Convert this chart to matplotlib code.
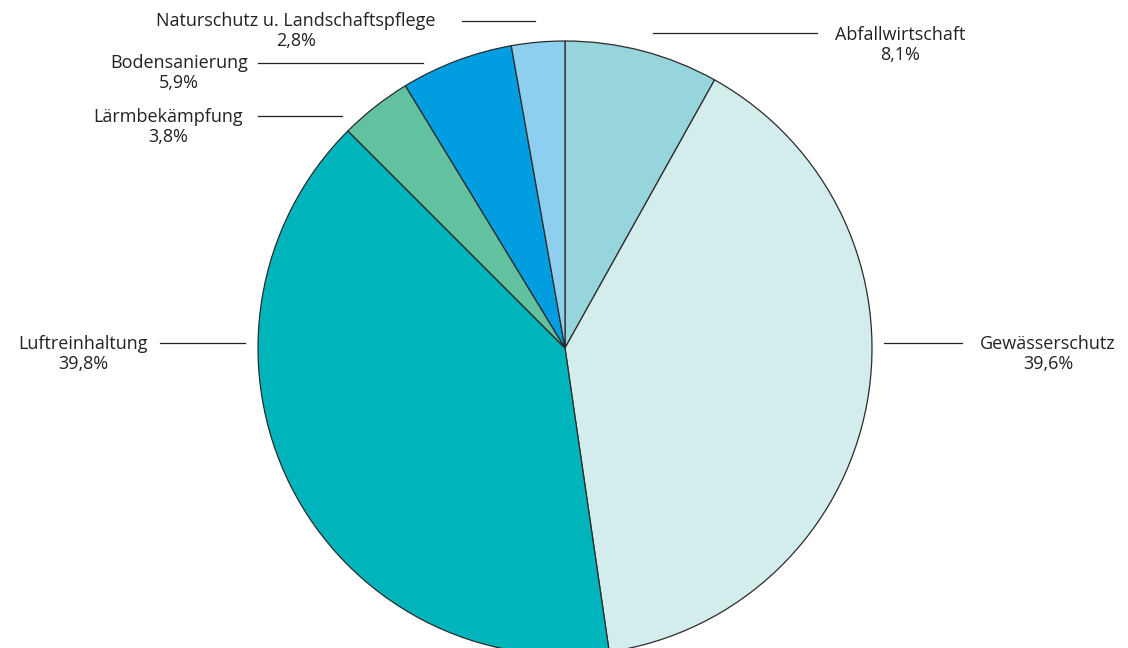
import matplotlib.pyplot as plt

# data (share of spending, %)
labels = ['Abfallwirtschaft', 'Gewässerschutz', 'Luftreinhaltung',
          'Lärmbekämpfung', 'Bodensanierung', 'Naturschutz u. Landschaftspflege']
shares = [8.1, 39.6, 39.8, 3.8, 5.9, 2.8]
share_text = ['8,1%', '39,6%', '39,8%', '3,8%', '5,9%', '2,8%']
colors = ['#97d5dc', '#d3ecec', '#00b4bc', '#62c19f', '#009ee0', '#8ecff0']

plt.rcParams['font.family'] = ['Open Sans', 'DejaVu Sans']

fig = plt.figure(figsize=(11.28, 6.48), dpi=100)
ax = fig.add_axes([0, 0, 1, 1])
ax.set_xlim(0, 1128)
ax.set_ylim(0, 648)
ax.set_aspect('equal')
ax.axis('off')

ax.pie(shares, colors=colors, startangle=90, counterclock=False,
       center=(565, 300), radius=307,
       wedgeprops=dict(edgecolor='#2b2b2b', linewidth=0.9))
ax.set_xlim(0, 1128)
ax.set_ylim(0, 648)

# label placement: (text x, text y, line x0, line x1, line y)
places = [
    (900, 603, 653, 817, 615),
    (1048, 294, 884, 962, 305),
    (83, 294, 160, 245, 305),
    (168, 521, 258, 342, 532),
    (179, 575, 258, 423, 585),
    (296, 617, 462, 535, 627),
]
for lab, txt, (tx, ty, x0, x1, ly) in zip(labels, share_text, places):
    ax.text(tx, ty, lab + '\n' + txt, ha='center', va='center', fontsize=13,
            color='#222222', linespacing=1.1)
    ax.plot([x0, x1], [ly, ly], color='#222222', lw=0.9)

fig.savefig('out.png', dpi=100)
